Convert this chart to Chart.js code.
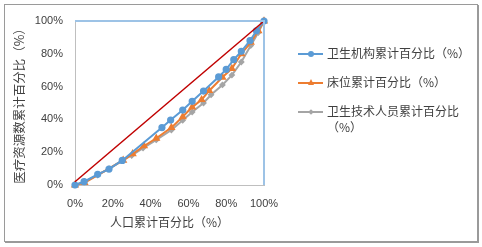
<!DOCTYPE html>
<html>
<head>
<meta charset="utf-8">
<script src="https://cdn.jsdelivr.net/npm/chart.js@4"></script>
<style>
  body { margin: 0; background: #fff; }
  #wrap { position: relative; width: 482px; height: 247px; }
  #frame { position: absolute; left: 4px; top: 4px; width: 472px; height: 236px;
           border: 1px solid #9a9a9a; box-shadow: 1px 1px 0 #9a9a9a; }
  canvas { position: absolute; left: 0; top: 0; }
  #legend { position: absolute; left: 298px; top: 45px; font: 12px "Noto Sans CJK SC", sans-serif; color: #404040; }
  .item { position: relative; height: 29px; }
  .line { position: absolute; left: 0; top: 8px; width: 25px; height: 2px; }
  .mark { position: absolute; left: 10px; top: 6px; width: 6px; height: 6px; }
  .txt { position: absolute; left: 29px; top: 0; white-space: nowrap; line-height: 16px; }
</style>
</head>
<body>
<div id="wrap">
  <div id="frame"></div>
  <canvas id="chart" width="482" height="247"></canvas>
  <div id="legend"></div>
</div>
<script>
// 人口累计百分比 / 资源累计百分比
const instX = [0, 4.8, 12, 18, 25, 46, 50.6, 57, 62, 68, 76, 80, 84, 88, 92.6, 96, 100];
const instY = [0, 2, 6.5, 9.7, 15, 35, 39.6, 45.7, 51, 57.3, 65.9, 70.5, 76.4, 81.5, 88, 94, 100];
const bedX = [0, 5, 25.5, 30.5, 36.5, 43, 51, 57, 62, 67, 71, 78, 83, 88, 93, 97, 100];
const bedY = [0, 1.4, 15, 19, 23.8, 28.5, 35, 41.6, 47.5, 52, 57.5, 65.7, 71, 80, 87, 94, 100];
const staffX = [0, 5, 12, 18, 25, 30, 36, 43, 51, 57, 62, 68, 72, 78, 83, 88, 93, 97, 100];
const staffY = [0, 2, 6, 10, 15, 18, 22.5, 27.5, 33.5, 39.5, 44.5, 50, 55, 61, 67, 75, 85, 93, 100];
const equalX = [0, 100];
const equalY = [2, 100];
const boxX = [0, 100, 100];
const boxY = [100, 100, 0];

const seriesNames = ["卫生机构累计百分比（%）", "床位累计百分比（%）", "卫生技术人员累计百分比（%）"];
const colors = ["#5B9BD5", "#ED7D31", "#A5A5A5"];

const pts = (xs, ys) => xs.map((x, i) => ({ x, y: ys[i] }));

new Chart(document.getElementById("chart"), {
  type: "scatter",
  data: {
    datasets: [
      { label: "box", data: pts(boxX, boxY), showLine: true, borderColor: "#9DC3E6", borderWidth: 2, pointRadius: 0, clip: 4 },
      { label: "equal", data: pts(equalX, equalY), showLine: true, borderColor: "#C00000", borderWidth: 1.5, pointRadius: 0, clip: 4 },
      { label: seriesNames[0], data: pts(instX, instY), showLine: true, borderColor: colors[0], backgroundColor: colors[0],
        borderWidth: 2, pointRadius: 2.6, pointStyle: "circle", clip: 5 },
      { label: seriesNames[1], data: pts(bedX, bedY), showLine: true, borderColor: colors[1], backgroundColor: colors[1],
        borderWidth: 2, pointRadius: 2.8, pointStyle: "triangle", clip: 5 },
      { label: seriesNames[2], data: pts(staffX, staffY), showLine: true, borderColor: colors[2], backgroundColor: colors[2],
        borderWidth: 2, pointRadius: 2, pointStyle: "rectRot", clip: 5 }
    ]
  },
  options: {
    responsive: false,
    animation: false,
    layout: { padding: { left: 12, right: 218, top: 21, bottom: 17 } },
    plugins: { legend: { display: false }, tooltip: { enabled: false } },
    scales: {
      x: {
        type: "linear", min: 0, max: 100,
        grid: { display: false, drawTicks: false },
        border: { color: "#BFBFBF", width: 1 },
        ticks: { stepSize: 20, padding: 12, color: "#404040", font: { family: "Liberation Sans", size: 11 },
                 callback: v => v + "%" },
        title: { display: true, text: "人口累计百分比（%）", color: "#404040", padding: { top: 0, bottom: 0 },
                 font: { family: "Noto Sans CJK SC", size: 12 } },
        afterFit: s => { s.height = 45; }
      },
      y: {
        min: 0, max: 100,
        grid: { display: false, drawTicks: false },
        border: { color: "#BFBFBF", width: 1 },
        ticks: { stepSize: 20, padding: 12, color: "#404040", font: { family: "Liberation Sans", size: 11 },
                 callback: v => v + "%" },
        title: { display: true, text: "医疗资源数累计百分比（%）", color: "#404040", padding: { top: 0, bottom: 0 },
                 font: { family: "Noto Sans CJK SC", size: 12.5 } },
        afterFit: s => { s.width = 63; }
      }
    }
  }
});

// legend
const legend = document.getElementById("legend");
const markStyles = [
  "border-radius:50%;",
  "width:0;height:0;border-left:3px solid transparent;border-right:3px solid transparent;border-bottom:6px solid " + colors[1] + ";background:none;top:5px;",
  "width:4px;height:4px;transform:rotate(45deg);left:11px;top:7px;"
];
seriesNames.forEach((name, i) => {
  const item = document.createElement("div");
  item.className = "item";
  let text = name;
  if (i === 2) text = "卫生技术人员累计百分比<br>（%）";
  item.innerHTML = '<div class="line" style="background:' + colors[i] + '"></div>' +
    '<div class="mark" style="background:' + colors[i] + ';' + markStyles[i] + '"></div>' +
    '<div class="txt">' + text + '</div>';
  legend.appendChild(item);
});
</script>
</body>
</html>
